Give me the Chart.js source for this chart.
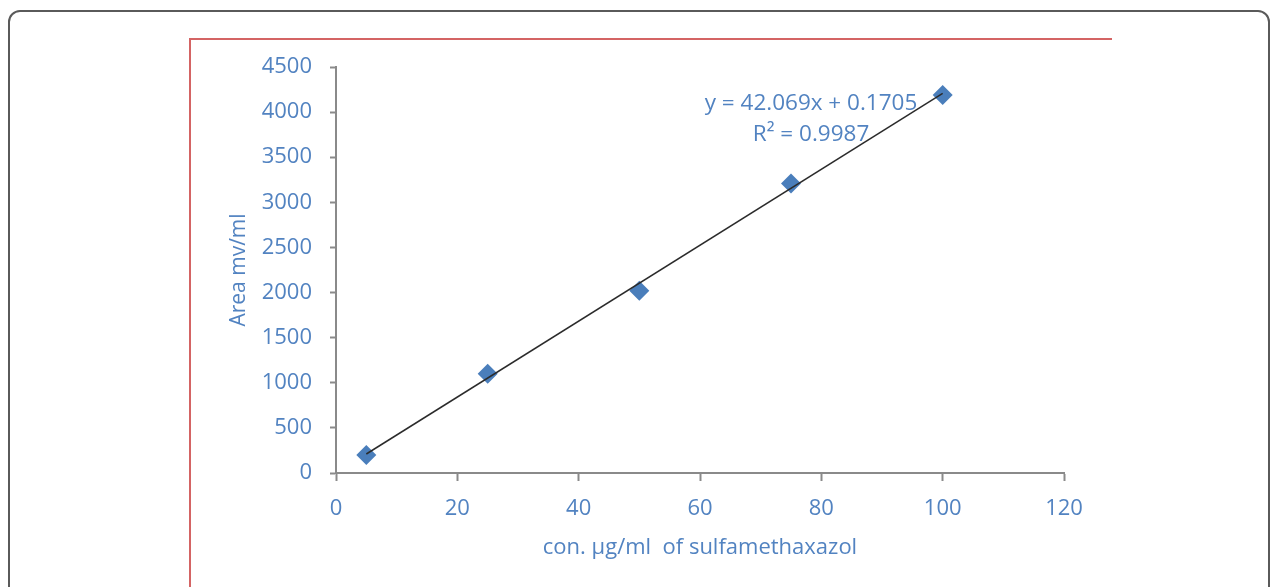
<!DOCTYPE html>
<html>
<head>
<meta charset="utf-8">
<script src="https://cdn.jsdelivr.net/npm/chart.js@4"></script>
<style>
  html, body { margin: 0; padding: 0; background: #fff; overflow: hidden; }
  #frame {
    position: absolute; left: 8px; top: 10px; width: 1262px; height: 640px;
    border: 2px solid #5a5a5a; border-radius: 12px; box-sizing: border-box;
  }
  #redTop { position: absolute; left: 189px; top: 38px; width: 923px; height: 2px; background: #d46464; }
  #redLeft { position: absolute; left: 189px; top: 38px; width: 2px; height: 560px; background: #d46464; }
  #wrap { position: absolute; left: 0; top: 0; width: 1280px; height: 587px; }
</style>
</head>
<body>
<div id="frame"></div>
<div id="redTop"></div>
<div id="redLeft"></div>
<div id="wrap"><canvas id="chart" width="1280" height="587"></canvas></div>
<script>
const concentrations = [5, 25, 50, 75, 100];
const areas = [200, 1100, 2020, 3210, 4190];
const trendX = [5, 100];
const trendY = [210.5, 4207.1];
const equationLines = ["y = 42.069x + 0.1705", "R² = 0.9987"];

const blue = "#5283c1";
const axisGray = "#8a8a8a";
const fontFamily = "'Open Sans', sans-serif";

const equationLabel = {
  id: "equationLabel",
  afterDatasetsDraw(chart) {
    const ctx = chart.ctx;
    ctx.save();
    ctx.font = "22.5px " + fontFamily;
    ctx.fillStyle = blue;
    ctx.textAlign = "center";
    ctx.textBaseline = "middle";
    ctx.fillText(equationLines[0], 811, 104);
    ctx.fillText(equationLines[1], 811, 135);
    ctx.restore();
  },
};

const ctx = document.getElementById("chart");

new Chart(ctx, {
  type: "scatter",
  data: {
    datasets: [
      {
        data: trendX.map((x, i) => ({ x: x, y: trendY[i] })),
        showLine: true,
        borderColor: "#2b2b2b",
        borderWidth: 1.5,
        pointRadius: 0,
      },
      {
        data: concentrations.map((x, i) => ({ x: x, y: areas[i] })),
        pointStyle: "rectRot",
        pointRadius: 10,
        backgroundColor: "#4a7ebb",
        borderColor: "#4a7ebb",
        borderWidth: 0,
      },
    ],
  },
  options: {
    responsive: false,
    animation: false,
    events: [],
    layout: {
      padding: { left: 190, top: 67, right: 216, bottom: 0 },
    },
    plugins: {
      legend: { display: false },
      tooltip: { enabled: false },
    },
    scales: {
      x: {
        type: "linear",
        min: 0,
        max: 120,
        afterFit: (scale) => {
          scale.height = 114;
        },
        ticks: {
          stepSize: 20,
          color: blue,
          padding: 15,
          font: { family: fontFamily, size: 22 },
          callback: (v) => String(v),
        },
        grid: {
          drawOnChartArea: false,
          tickLength: 8,
          tickWidth: 2,
          tickColor: axisGray,
        },
        border: { color: axisGray, width: 2 },
        title: {
          display: true,
          text: "con. µg/ml  of sulfamethaxazol",
          color: blue,
          font: { family: fontFamily, size: 22 },
          padding: { top: 0, bottom: 26 },
        },
      },
      y: {
        type: "linear",
        min: 0,
        max: 4500,
        afterFit: (scale) => {
          scale.width = 146;
        },
        ticks: {
          stepSize: 500,
          color: blue,
          padding: 18,
          font: { family: fontFamily, size: 22 },
          callback: (v) => String(v),
        },
        grid: {
          drawOnChartArea: false,
          tickLength: 6,
          tickWidth: 2,
          tickColor: axisGray,
        },
        border: { color: axisGray, width: 2 },
        title: {
          display: true,
          text: "Area mv/ml",
          color: blue,
          font: { family: fontFamily, size: 21 },
          padding: { top: 36, bottom: 0 },
        },
      },
    },
  },
  plugins: [equationLabel],
});
</script>
</body>
</html>
